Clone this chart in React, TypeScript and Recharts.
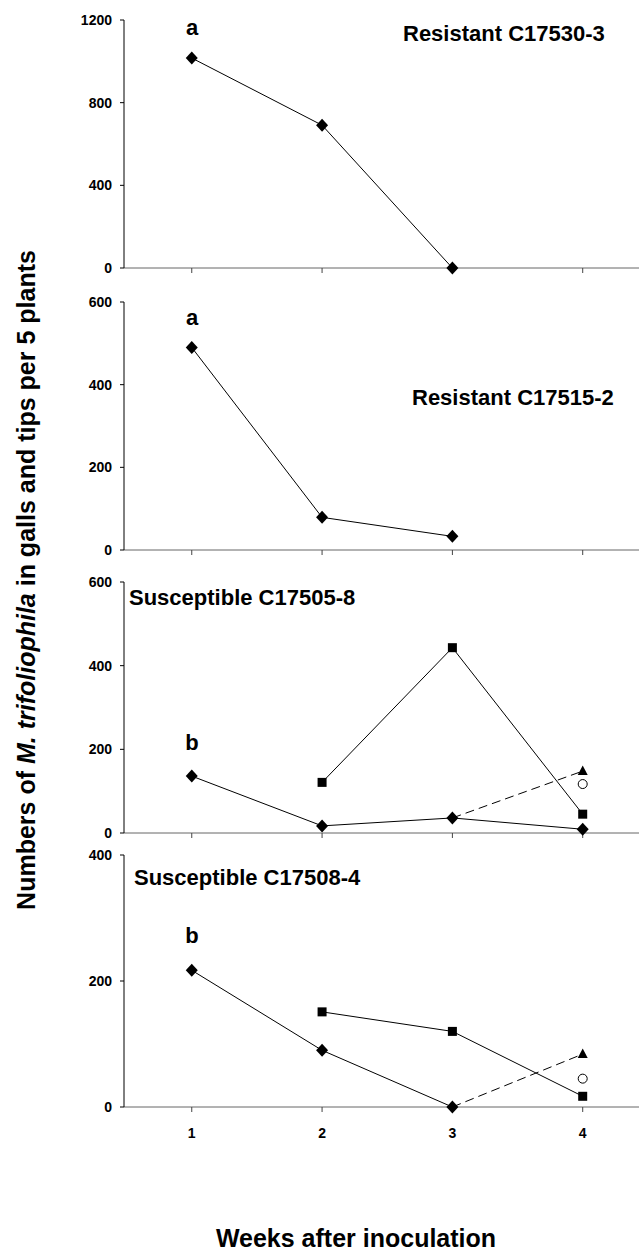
import * as React from "react";
import { ComposedChart, Line, XAxis, YAxis } from "recharts";

// weeks after inoculation
const WEEKS = [1, 2, 3, 4];

// Resistant C17530-3
const C17530_DIAMOND = [1016, 691, 0, null];
// Resistant C17515-2
const C17515_DIAMOND = [490, 79, 33, null];
// Susceptible C17505-8
const C17505_DIAMOND = [136, 17, 36, 9];
const C17505_SQUARE = [null, 121, 443, 45];
const C17505_TRIANGLE = [null, null, null, 148];
const C17505_CIRCLE = [null, null, null, 117];
// Susceptible C17508-4
const C17508_DIAMOND = [217, 90, 0, null];
const C17508_SQUARE = [null, 151, 120, 17];
const C17508_TRIANGLE = [null, null, null, 84];
const C17508_CIRCLE = [null, null, null, 45];

const TICKS_1200 = [0, 400, 800, 1200];
const TICKS_600 = [0, 200, 400, 600];
const TICKS_400 = [0, 200, 400];

const FONT = "'Liberation Sans', Arial, Helvetica, sans-serif";

type Num = number | null;

const buildRows = (diamond: Num[], square?: Num[], triangle?: Num[], circle?: Num[]) =>
  WEEKS.map((week, i) => ({
    week,
    diamond: diamond[i],
    square: square ? square[i] : null,
    // dashed link from the week-3 diamond to the week-4 triangle
    link: triangle ? (i === 2 ? diamond[2] : triangle[i]) : null,
    triangle: triangle ? triangle[i] : null,
    circle: circle ? circle[i] : null,
  }));

const empty = (key: any) => <g key={key} />;

const diamondDot = (p: any) => {
  if (p.value == null || p.cy == null) return empty(p.index);
  const { cx, cy } = p;
  return <path key={p.index} d={`M${cx},${cy - 6.5}L${cx + 6},${cy}L${cx},${cy + 6.5}L${cx - 6},${cy}Z`} fill="#000" />;
};
const squareDot = (p: any) => {
  if (p.value == null || p.cy == null) return empty(p.index);
  return <rect key={p.index} x={p.cx - 4.5} y={p.cy - 4.5} width={9} height={9} fill="#000" />;
};
const triangleDot = (p: any) => {
  if (p.value == null || p.cy == null) return empty(p.index);
  const { cx, cy } = p;
  return <path key={p.index} d={`M${cx},${cy - 5.5}L${cx + 5},${cy + 4}L${cx - 5},${cy + 4}Z`} fill="#000" />;
};
const circleDot = (p: any) => {
  if (p.value == null || p.cy == null) return empty(p.index);
  return <circle key={p.index} cx={p.cx} cy={p.cy} r={4.5} fill="#fff" stroke="#000" strokeWidth={1} />;
};

interface PanelProps {
  top: number;
  plotHeight: number;
  xAxisHeight: number;
  yMax: number;
  yTicks: number[];
  rows: ReturnType<typeof buildRows>;
  showXLabels?: boolean;
  extra?: boolean;
}

const Panel = ({ top, plotHeight, xAxisHeight, yMax, yTicks, rows, showXLabels, extra }: PanelProps) => (
  <div style={{ position: "absolute", left: 0, top }}>
    <ComposedChart
      width={639}
      height={20 + plotHeight + xAxisHeight}
      data={rows}
      margin={{ top: 20, right: 0, bottom: 0, left: 0 }}
    >
      <XAxis
        type="number"
        dataKey="week"
        domain={[0.48, 4.432]}
        ticks={WEEKS}
        allowDataOverflow
        height={xAxisHeight}
        tickSize={5}
        tickMargin={showXLabels ? 16 : 2}
        axisLine={{ stroke: "#666" }}
        tickLine={{ stroke: "#444" }}
        tickFormatter={(v: number) => (showXLabels ? String(v) : "")}
        tick={{ fill: "#000", fontSize: 14, fontWeight: 700, fontFamily: FONT }}
      />
      <YAxis
        type="number"
        domain={[0, yMax]}
        ticks={yTicks}
        width={124}
        tickSize={4}
        tickMargin={8}
        axisLine={{ stroke: "#000" }}
        tickLine={{ stroke: "#000" }}
        tick={{ fill: "#000", fontSize: 14, fontWeight: 700, fontFamily: FONT }}
      />
      {extra && (
        <Line dataKey="link" stroke="#000" strokeWidth={1} strokeDasharray="9 5" dot={false} isAnimationActive={false} />
      )}
      {extra && <Line dataKey="triangle" stroke="none" dot={triangleDot} isAnimationActive={false} />}
      {extra && <Line dataKey="circle" stroke="none" dot={circleDot} isAnimationActive={false} />}
      {extra && <Line dataKey="square" stroke="#000" strokeWidth={1} dot={squareDot} isAnimationActive={false} />}
      <Line dataKey="diamond" stroke="#000" strokeWidth={1} dot={diamondDot} isAnimationActive={false} />
    </ComposedChart>
  </div>
);

const titleStyle = { fontFamily: FONT, fontWeight: 700, fill: "#000" } as const;

export default function App() {
  return (
    <div style={{ position: "absolute", left: 0, top: 0, width: 639, height: 1253, background: "#fff", overflow: "hidden" }}>
      <Panel top={0} plotHeight={248} xAxisHeight={12} yMax={1200} yTicks={TICKS_1200} rows={buildRows(C17530_DIAMOND)} />
      <Panel top={282} plotHeight={248} xAxisHeight={12} yMax={600} yTicks={TICKS_600} rows={buildRows(C17515_DIAMOND)} />
      <Panel
        top={562}
        plotHeight={251}
        xAxisHeight={12}
        yMax={600}
        yTicks={TICKS_600}
        rows={buildRows(C17505_DIAMOND, C17505_SQUARE, C17505_TRIANGLE, C17505_CIRCLE)}
        extra
      />
      <Panel
        top={835}
        plotHeight={252}
        xAxisHeight={45}
        yMax={400}
        yTicks={TICKS_400}
        rows={buildRows(C17508_DIAMOND, C17508_SQUARE, C17508_TRIANGLE, C17508_CIRCLE)}
        showXLabels
        extra
      />
      <svg width={639} height={1253} style={{ position: "absolute", left: 0, top: 0, pointerEvents: "none" }}>
        <g style={titleStyle as any} fontSize={22}>
          <text x={403} y={41}>Resistant C17530-3</text>
          <text x={412} y={405}>Resistant C17515-2</text>
          <text x={129} y={605}>Susceptible C17505-8</text>
          <text x={134} y={885}>Susceptible C17508-4</text>
          <text x={192} y={35} textAnchor="middle">a</text>
          <text x={192} y={325} textAnchor="middle">a</text>
          <text x={192} y={750} textAnchor="middle">b</text>
          <text x={192} y={943} textAnchor="middle">b</text>
        </g>
        <text
          x={26}
          y={580}
          transform="rotate(-90, 26, 580)"
          textAnchor="middle"
          dominantBaseline="central"
          fontSize={25}
          style={titleStyle as any}
        >
          Numbers of <tspan fontStyle="italic">M. trifoliophila</tspan> in galls and tips per 5 plants
        </text>
        <text x={356} y={1247} textAnchor="middle" fontSize={25} style={titleStyle as any}>
          Weeks after inoculation
        </text>
      </svg>
    </div>
  );
}
